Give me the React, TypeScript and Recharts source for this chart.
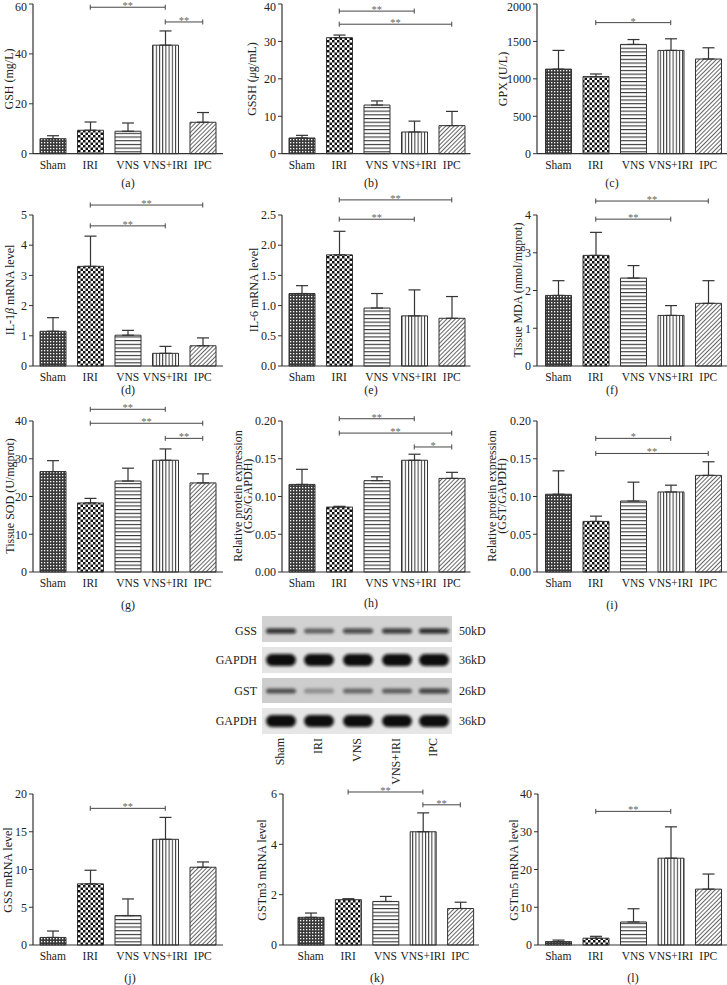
import React from 'react';
import { BarChart, Bar, XAxis, YAxis, ErrorBar, ReferenceLine, Cell } from 'recharts';

const FONT = '"Liberation Serif", "Times New Roman", serif';

// ---------- data ----------
const groups = ['Sham', 'IRI', 'VNS', 'VNS+IRI', 'IPC'];

const gshMean = [6, 9.4, 9, 43.5, 12.6];
const gshErr = [1.2, 3.3, 3.3, 5.7, 3.9];
const gshTicks = [0, 20, 40, 60];

const gsshMean = [4.2, 31, 13, 5.8, 7.5];
const gsshErr = [0.7, 0.7, 1.1, 2.9, 3.8];
const gsshTicks = [0, 10, 20, 30, 40];

const gpxMean = [1130, 1030, 1460, 1380, 1265];
const gpxErr = [250, 35, 65, 155, 150];
const gpxTicks = [0, 500, 1000, 1500, 2000];

const il1Mean = [1.15, 3.3, 1.02, 0.42, 0.67];
const il1Err = [0.45, 1.0, 0.16, 0.23, 0.26];
const il1Ticks = [0, 1, 2, 3, 4, 5];

const il6Mean = [1.2, 1.84, 0.96, 0.83, 0.79];
const il6Err = [0.13, 0.39, 0.24, 0.43, 0.36];
const il6Ticks = [0, 0.5, 1.0, 1.5, 2.0, 2.5];

const mdaMean = [1.87, 2.93, 2.33, 1.34, 1.66];
const mdaErr = [0.39, 0.61, 0.33, 0.26, 0.6];
const mdaTicks = [0, 1, 2, 3, 4];

const sodMean = [26.6, 18.3, 24.1, 29.6, 23.6];
const sodErr = [2.9, 1.2, 3.4, 3.0, 2.4];
const sodTicks = [0, 10, 20, 30, 40];

const gssProtMean = [0.116, 0.086, 0.121, 0.148, 0.124];
const gssProtErr = [0.02, 0.001, 0.005, 0.008, 0.008];
const gssProtTicks = [0, 0.05, 0.1, 0.15, 0.2];

const gstProtMean = [0.103, 0.067, 0.094, 0.106, 0.128];
const gstProtErr = [0.031, 0.007, 0.025, 0.009, 0.018];
const gstProtTicks = [0, 0.05, 0.1, 0.15, 0.2];

const gssMrnaMean = [1.0, 8.1, 3.9, 14, 10.3];
const gssMrnaErr = [0.85, 1.8, 2.2, 2.9, 0.7];
const gssMrnaTicks = [0, 5, 10, 15, 20];

const gstm3Mean = [1.1, 1.8, 1.73, 4.5, 1.45];
const gstm3Err = [0.17, 0.04, 0.2, 0.75, 0.25];
const gstm3Ticks = [0, 2, 4, 6];

const gstm5Mean = [0.9, 1.8, 6.1, 23, 14.8];
const gstm5Err = [0.4, 0.5, 3.5, 8.3, 4.0];
const gstm5Ticks = [0, 10, 20, 30, 40];

// significance brackets: [from, to, y-level in data units, mark]
const gshSig: [string, string, number, string][] = [['IRI', 'VNS+IRI', 58.7, '**'], ['VNS+IRI', 'IPC', 52.8, '**']];
const gsshSig: [string, string, number, string][] = [['IRI', 'VNS+IRI', 38.1, '**'], ['IRI', 'IPC', 34.6, '**']];
const gpxSig: [string, string, number, string][] = [['IRI', 'VNS+IRI', 1751, '*']];
const il1Sig: [string, string, number, string][] = [['IRI', 'IPC', 5.33, '**'], ['IRI', 'VNS+IRI', 4.64, '**']];
const il6Sig: [string, string, number, string][] = [['IRI', 'IPC', 2.75, '**'], ['IRI', 'VNS+IRI', 2.43, '**']];
const mdaSig: [string, string, number, string][] = [['IRI', 'IPC', 4.37, '**'], ['IRI', 'VNS+IRI', 3.89, '**']];
const sodSig: [string, string, number, string][] = [['IRI', 'VNS+IRI', 43.1, '**'], ['IRI', 'IPC', 39.4, '**'], ['VNS+IRI', 'IPC', 35.4, '**']];
const gssProtSig: [string, string, number, string][] = [['IRI', 'VNS+IRI', 0.203, '**'], ['IRI', 'IPC', 0.184, '**'], ['VNS+IRI', 'IPC', 0.1656, '*']];
const gstProtSig: [string, string, number, string][] = [['IRI', 'VNS+IRI', 0.177, '*'], ['IRI', 'IPC', 0.157, '**']];
const gssMrnaSig: [string, string, number, string][] = [['IRI', 'VNS+IRI', 18.1, '**']];
const gstm3Sig: [string, string, number, string][] = [['IRI', 'VNS+IRI', 6.08, '**'], ['VNS+IRI', 'IPC', 5.57, '**']];
const gstm5Sig: [string, string, number, string][] = [['IRI', 'VNS+IRI', 35.4, '**']];

// western blot
const blotRows = ['GSS', 'GAPDH', 'GST', 'GAPDH'];
const blotKd = ['50kD', '36kD', '26kD', '36kD'];
const blotIntensity = [
  [0.85, 0.55, 0.72, 0.8, 0.88],
  [1, 1, 1, 1, 1],
  [0.62, 0.3, 0.5, 0.55, 0.75],
  [1, 1, 1, 1, 1],
];

// ---------- layout ----------
const col1 = { axisStart: 33, axisEnd: 223, padL: 1, padR: 1.5 };
const col2 = { axisStart: 282, axisEnd: 470.5, padL: 1, padR: 0 };
const col2k = { axisStart: 283, axisEnd: 479, padL: 9, padR: 0 };
const col3 = { axisStart: 537, axisEnd: 727, padL: 2.5, padR: 0 };
const col3l = { axisStart: 538, axisEnd: 727, padL: 1.5, padR: 0 };
const row1 = { top: 4.3, bottom: 154 };
const row2 = { top: 215, bottom: 366 };
const row3 = { top: 421, bottom: 572 };
const row4 = { top: 794, bottom: 945 };

const fmt0 = (v: number) => String(v);
const fmt1 = (v: number) => v.toFixed(1);
const fmt2 = (v: number) => v.toFixed(2);

const panels = [
  { id: 'a', mean: gshMean, err: gshErr, ticks: gshTicks, sig: gshSig, col: col1, row: row1, fmt: fmt0 },
  { id: 'b', mean: gsshMean, err: gsshErr, ticks: gsshTicks, sig: gsshSig, col: col2, row: row1, fmt: fmt0 },
  { id: 'c', mean: gpxMean, err: gpxErr, ticks: gpxTicks, sig: gpxSig, col: col3, row: row1, fmt: fmt0 },
  { id: 'd', mean: il1Mean, err: il1Err, ticks: il1Ticks, sig: il1Sig, col: col1, row: row2, fmt: fmt0 },
  { id: 'e', mean: il6Mean, err: il6Err, ticks: il6Ticks, sig: il6Sig, col: col2, row: row2, fmt: fmt1 },
  { id: 'f', mean: mdaMean, err: mdaErr, ticks: mdaTicks, sig: mdaSig, col: col3, row: row2, fmt: fmt0 },
  { id: 'g', mean: sodMean, err: sodErr, ticks: sodTicks, sig: sodSig, col: col1, row: row3, fmt: fmt0 },
  { id: 'h', mean: gssProtMean, err: gssProtErr, ticks: gssProtTicks, sig: gssProtSig, col: col2, row: row3, fmt: fmt2 },
  { id: 'i', mean: gstProtMean, err: gstProtErr, ticks: gstProtTicks, sig: gstProtSig, col: col3, row: row3, fmt: fmt2 },
  { id: 'j', mean: gssMrnaMean, err: gssMrnaErr, ticks: gssMrnaTicks, sig: gssMrnaSig, col: col1, row: row4, fmt: fmt0 },
  { id: 'k', mean: gstm3Mean, err: gstm3Err, ticks: gstm3Ticks, sig: gstm3Sig, col: col2k, row: row4, fmt: fmt0 },
  { id: 'l', mean: gstm5Mean, err: gstm5Err, ticks: gstm5Ticks, sig: gstm5Sig, col: col3l, row: row4, fmt: fmt0 },
];

const patIds = ['patSham', 'patIRI', 'patVNS', 'patVI', 'patIPC'];

function Bracket(props: any) {
  const { x1, y1, x2, mark } = props;
  const y = y1;
  return (
    <g>
      <line x1={x1} y1={y} x2={x2} y2={y} stroke="#444" strokeWidth={1} />
      <line x1={x1} y1={y - 2.5} x2={x1} y2={y + 2.5} stroke="#444" strokeWidth={1} />
      <line x1={x2} y1={y - 2.5} x2={x2} y2={y + 2.5} stroke="#444" strokeWidth={1} />
      <text x={(x1 + x2) / 2} y={y + 2} textAnchor="middle" fontSize={10.5} fill="#666" fontFamily={FONT}>
        {mark}
      </text>
    </g>
  );
}

function YTick(props: any) {
  const { x, y, payload, fmt, minY } = props;
  const yy = Math.max(y, minY);
  return (
    <text x={x} y={yy} dy="0.355em" textAnchor="end" fontSize={12} fill="#222" fontFamily={FONT}>
      {fmt(payload.value)}
    </text>
  );
}

function Panel({ p }: { p: any }) {
  const mL = 50;
  const mT = 34;
  const xH = 30;
  const plotW = p.col.axisEnd - p.col.axisStart;
  const plotH = p.row.bottom - p.row.top;
  const width = mL + plotW + 2;
  const height = mT + plotH + xH;
  const chartTop = p.row.top - mT;
  const minY = 7 - chartTop;
  const data = groups.map((g, i) => ({ name: g, value: p.mean[i], err: [0, p.err[i]] }));
  const maxV = p.ticks[p.ticks.length - 1];
  return (
    <div style={{ position: 'absolute', left: p.col.axisStart - mL, top: chartTop }}>
      <BarChart width={width} height={height} data={data} margin={{ top: mT, right: 2, bottom: 0, left: 0 }}>
        <XAxis
          dataKey="name"
          height={xH}
          interval={0}
          padding={{ left: p.col.padL, right: p.col.padR }}
          axisLine={{ stroke: '#333', strokeWidth: 1.2 }}
          tickLine={false}
          tickSize={4}
          tickMargin={3}
          tick={{ fontSize: 11.5, fill: '#222', fontFamily: FONT }}
        />
        <YAxis
          width={mL}
          domain={[0, maxV]}
          ticks={p.ticks}
          interval={0}
          axisLine={{ stroke: '#333', strokeWidth: 1.2 }}
          tickLine={{ stroke: '#333' }}
          tickSize={4}
          tickMargin={2}
          tick={<YTick fmt={p.fmt} minY={minY} />}
        />
        <Bar dataKey="value" barSize={26} isAnimationActive={false} stroke="#333" strokeWidth={1}>
          {data.map((d, i) => (
            <Cell key={i} fill={`url(#${patIds[i]})`} />
          ))}
          <ErrorBar dataKey="err" direction="y" width={6} stroke="#333" strokeWidth={1.2} isAnimationActive={false} />
        </Bar>
        {p.sig.map((s: [string, string, number, string], i: number) => (
          <ReferenceLine
            key={i}
            segment={[{ x: s[0], y: s[2] }, { x: s[1], y: s[2] }]}
            ifOverflow="visible"
            shape={(props: any) => <Bracket {...props} mark={s[3]} />}
          />
        ))}
      </BarChart>
    </div>
  );
}

const yLabels: { x: number; y: number; lines: React.ReactNode[] }[] = [
  { x: 9, y: 79, lines: ['GSH (mg/L)'] },
  { x: 252, y: 79, lines: [<>GSSH (<tspan fontStyle="italic">μ</tspan>g/mL)</>] },
  { x: 503, y: 79, lines: ['GPX (U/L)'] },
  { x: 10, y: 290, lines: [<>IL-1<tspan fontStyle="italic">β</tspan> mRNA level</>] },
  { x: 254, y: 290, lines: ['IL-6 mRNA level'] },
  { x: 518, y: 290, lines: ['Tissue MDA (nmol/mgprot)'] },
  { x: 10, y: 496, lines: ['Tissue SOD (U/mgprot)'] },
  { x: 238, y: 496, lines: ['Relative protein expression', '(GSS/GAPDH)'] },
  { x: 492, y: 496, lines: ['Relative protein expression', '(GST/GAPDH)'] },
  { x: 8, y: 870, lines: ['GSS mRNA level'] },
  { x: 262, y: 870, lines: ['GSTm3 mRNA level'] },
  { x: 514, y: 870, lines: ['GSTm5 mRNA level'] },
];

const panelLetters = [
  { t: '(a)', x: 128, y: 183 }, { t: '(b)', x: 371, y: 183 }, { t: '(c)', x: 612, y: 183 },
  { t: '(d)', x: 128, y: 390 }, { t: '(e)', x: 371, y: 390 }, { t: '(f)', x: 612, y: 390 },
  { t: '(g)', x: 128, y: 605 }, { t: '(h)', x: 371, y: 603 }, { t: '(i)', x: 612, y: 605 },
  { t: '(j)', x: 130, y: 978 }, { t: '(k)', x: 377, y: 978 }, { t: '(l)', x: 633, y: 978 },
];

const blotStrips = [
  { y: 616, h: 26, bg: '#d2d2d2', bh: 5, cy: 631 },
  { y: 647, h: 26, bg: '#e4e4e4', bh: 12, cy: 660 },
  { y: 678, h: 25, bg: '#cdcdcd', bh: 5, cy: 691 },
  { y: 708, h: 26, bg: '#e6e6e6', bh: 12, cy: 721 },
];
const laneX = [281, 319, 358, 397, 434];

function Blot() {
  return (
    <g fontFamily={FONT} fontSize={12} fill="#222">
      {blotStrips.map((s, r) => (
        <g key={r}>
          <rect x={262} y={s.y} width={190} height={s.h} fill={s.bg} />
          {laneX.map((x, i) => {
            const a = blotIntensity[r][i];
            return (
              <rect
                key={i}
                x={x - 15}
                y={s.cy - s.bh / 2}
                width={30}
                height={s.bh}
                rx={s.bh / 2}
                fill={`rgba(10,10,10,${a})`}
                filter="url(#blur)"
              />
            );
          })}
          <text x={257} y={s.cy} textAnchor="end" dominantBaseline="central" fill="#222">
            {blotRows[r]}
          </text>
          <text x={459} y={s.cy} textAnchor="start" dominantBaseline="central" fill="#222">
            {blotKd[r]}
          </text>
        </g>
      ))}
      {groups.map((g, i) => (
        <text
          key={g}
          transform={`translate(${laneX[i] - 1},738) rotate(-90)`}
          textAnchor="end"
          dominantBaseline="central"
          fill="#222"
        >
          {g}
        </text>
      ))}
    </g>
  );
}

export default function App() {
  return (
    <div style={{ position: 'absolute', left: 0, top: 0, width: 727, height: 985, background: '#fff', overflow: 'hidden' }}>
      {panels.map((p) => (
        <Panel key={p.id} p={p} />
      ))}
      <svg width={727} height={985} style={{ position: 'absolute', left: 0, top: 0, pointerEvents: 'none' }}>
        <defs>
          <pattern id="patSham" width="3" height="3" patternUnits="userSpaceOnUse">
            <rect width="3" height="3" fill="#3a3a3a" />
            <rect x="1" y="1" width="1.3" height="1.3" fill="#ffffff" />
          </pattern>
          <pattern id="patIRI" width="5" height="5" patternUnits="userSpaceOnUse">
            <rect width="5" height="5" fill="#ffffff" />
            <rect width="2.5" height="2.5" fill="#111" />
            <rect x="2.5" y="2.5" width="2.5" height="2.5" fill="#111" />
          </pattern>
          <pattern id="patVNS" width="4" height="3.7" patternUnits="userSpaceOnUse">
            <rect width="4" height="3.7" fill="#ffffff" />
            <rect width="4" height="1.1" fill="#333" />
          </pattern>
          <pattern id="patVI" width="3.2" height="4" patternUnits="userSpaceOnUse">
            <rect width="3.2" height="4" fill="#ffffff" />
            <rect width="1" height="4" fill="#333" />
          </pattern>
          <pattern id="patIPC" width="3" height="3" patternUnits="userSpaceOnUse" patternTransform="rotate(45)">
            <rect width="3" height="3" fill="#ffffff" />
            <rect width="0.9" height="3" fill="#555" />
          </pattern>
          <filter id="blur" x="-20%" y="-80%" width="140%" height="260%">
            <feGaussianBlur stdDeviation="1.4" />
          </filter>
        </defs>
        <g fontFamily={FONT} fontSize={12} fill="#222">
          {yLabels.map((l, i) => (
            <g key={i}>
              {l.lines.map((ln, j) => (
                <text
                  key={j}
                  transform={`translate(${l.x + j * 10},${l.y}) rotate(-90)`}
                  textAnchor="middle"
                  dominantBaseline="central"
                >
                  {ln}
                </text>
              ))}
            </g>
          ))}
          {panelLetters.map((l) => (
            <text key={l.t} x={l.x} y={l.y} textAnchor="middle" dominantBaseline="central">
              {l.t}
            </text>
          ))}
        </g>
        <Blot />
      </svg>
    </div>
  );
}
